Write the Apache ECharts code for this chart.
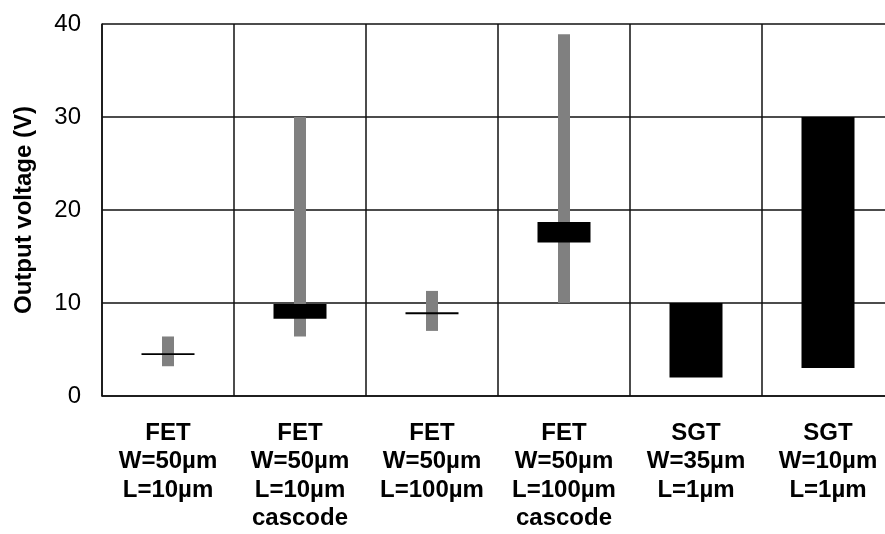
<!DOCTYPE html>
<html style="height: 100%">
<head>
    <meta charset="utf-8">
</head>
<body style="height: 100%; margin: 0; background: #fff">
<div id="container" style="height: 100%"></div>
<script type="text/javascript" src="https://cdn.jsdelivr.net/npm/echarts@6/dist/echarts.min.js"></script>
<script type="text/javascript">
    var categories = [
        'FET\nW=50µm\nL=10µm',
        'FET\nW=50µm\nL=10µm\ncascode',
        'FET\nW=50µm\nL=100µm',
        'FET\nW=50µm\nL=100µm\ncascode',
        'SGT\nW=35µm\nL=1µm',
        'SGT\nW=10µm\nL=1µm'
    ];
    // gray range bars (low / high)
    var grayLow = [3.2, 6.4, 7.0, 10.0, null, null];
    var grayHigh = [6.4, 30.0, 11.3, 38.9, null, null];
    // black bars / marks (low / high)
    var blackLow = [4.4, 8.3, 8.8, 16.5, 2.0, 3.0];
    var blackHigh = [4.6, 9.9, 9.0, 18.7, 10.0, 30.0];
    var yTicks = [0, 10, 20, 30, 40];

    function span(lo, hi) {
        return lo.map(function (v, i) {
            return v == null ? null : +(hi[i] - v).toFixed(2);
        });
    }

    var dom = document.getElementById("container");
    var myChart = echarts.init(dom);
    var font = 'Liberation Sans, Arial, sans-serif';
    var lineColor = '#111';

    var option = {
        animation: false,
        grid: {left: 102, top: 24, bottom: 138, right: -9, outerBoundsMode: 'none'},
        xAxis: [{
            type: 'category',
            data: categories,
            axisLine: {show: true, lineStyle: {color: lineColor, width: 1.5}},
            axisTick: {show: false},
            splitLine: {show: true, lineStyle: {color: lineColor, width: 1.5}},
            axisLabel: {
                interval: 0,
                margin: 23,
                fontFamily: font,
                fontWeight: 'bold',
                fontSize: 24,
                lineHeight: 28.5,
                color: '#000'
            }
        }, {
            type: 'category',
            data: categories,
            show: false
        }],
        yAxis: {
            type: 'value',
            min: yTicks[0],
            max: yTicks[yTicks.length - 1],
            interval: 10,
            name: 'Output voltage (V)',
            nameLocation: 'middle',
            nameGap: 66,
            nameTextStyle: {fontFamily: font, fontWeight: 'bold', fontSize: 24, color: '#000'},
            axisLine: {show: true, lineStyle: {color: lineColor, width: 1.5}},
            axisTick: {show: false},
            splitLine: {show: true, lineStyle: {color: lineColor, width: 1.5}},
            axisLabel: {fontFamily: font, fontSize: 24, color: '#000', margin: 21}
        },
        series: [
            {
                type: 'bar', xAxisIndex: 0, stack: 'gray', barWidth: 12,
                itemStyle: {color: 'transparent'}, data: grayLow, silent: true
            },
            {
                type: 'bar', xAxisIndex: 0, stack: 'gray', barWidth: 12,
                itemStyle: {color: '#808080'}, data: span(grayLow, grayHigh)
            },
            {
                type: 'bar', xAxisIndex: 1, stack: 'black', barWidth: 53,
                itemStyle: {color: 'transparent'}, data: blackLow, silent: true
            },
            {
                type: 'bar', xAxisIndex: 1, stack: 'black', barWidth: 53,
                itemStyle: {color: '#000'}, data: span(blackLow, blackHigh)
            }
        ]
    };

    myChart.setOption(option, true);
</script>
</body>
</html>
